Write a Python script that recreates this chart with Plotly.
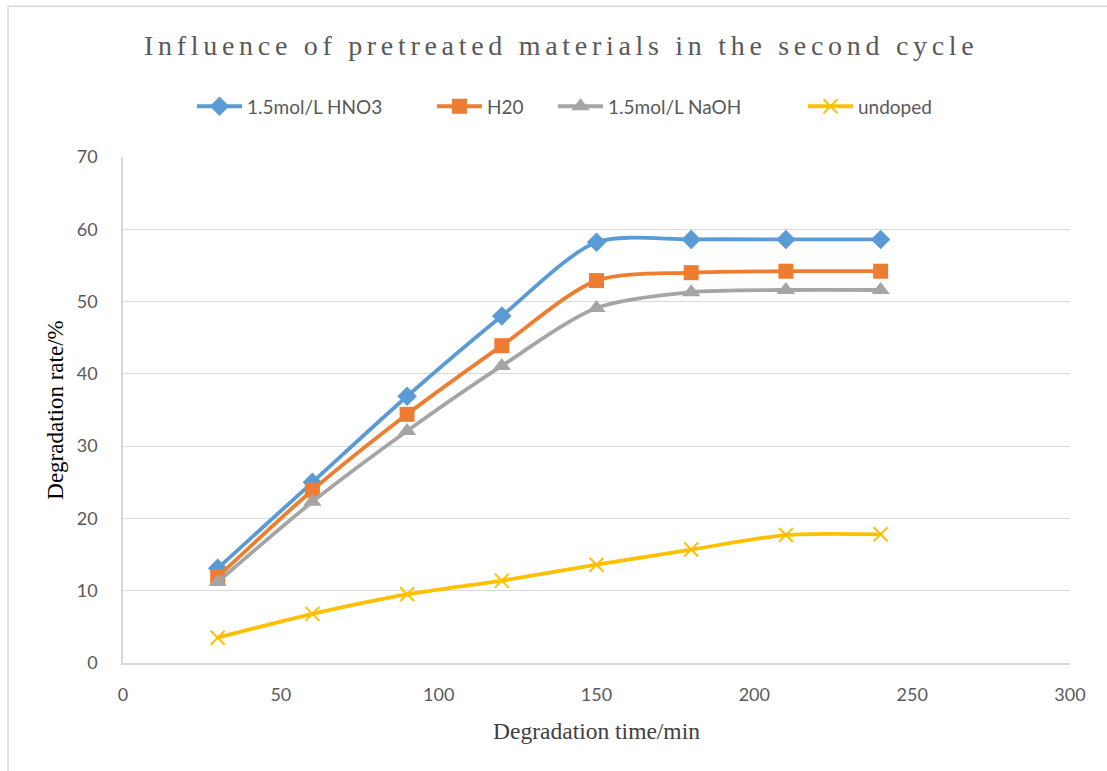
import plotly.graph_objects as go

time_min = [30, 60, 90, 120, 150, 180, 210, 240]
hno3 = [13.1, 25.0, 36.9, 48.0, 58.2, 58.6, 58.6, 58.6]
h2o = [11.9, 23.9, 34.4, 43.9, 52.9, 54.0, 54.2, 54.2]
naoh = [11.2, 22.3, 32.1, 41.1, 49.1, 51.3, 51.6, 51.6]
undoped = [3.5, 6.8, 9.5, 11.4, 13.6, 15.7, 17.7, 17.8]

names = ["1.5mol/L HNO3", "H20", "1.5mol/L NaOH", "undoped"]
colors = ["#5B9BD5", "#ED7D31", "#A5A5A5", "#FFC000"]
symbols = ["diamond", "square", "triangle-up", "x-thin"]
sizes = [15, 15, 16, 14]
legend_ids = ["legend", "legend2", "legend3", "legend4"]
legend_left_px = [192, 432, 553, 803]

PLOT_L, PLOT_W = 123, 947

fig = go.Figure()
for vals, name, col, sym, sz, lg in zip([hno3, h2o, naoh, undoped], names, colors, symbols, sizes, legend_ids):
    fig.add_trace(go.Scatter(
        x=time_min, y=vals, name=name, mode="lines+markers", legend=lg,
        line=dict(color=col, width=3.8, shape="spline", smoothing=0.8),
        marker=dict(symbol=sym, size=sz, color=col,
                    line=dict(color=col, width=2 if sym == "x-thin" else 0)),
    ))

title_text = '<span style="letter-spacing:4.7px">Influence of pretreated materials in the second cycle</span>'

legend_layout = {}
for lg, px in zip(legend_ids, legend_left_px):
    legend_layout[lg] = dict(orientation="h", x=(px - PLOT_L) / PLOT_W, xanchor="left",
                             y=1.1, yanchor="middle", itemwidth=45,
                             font=dict(family="Lato", size=19, color="#595959"),
                             bgcolor="rgba(0,0,0,0)")

fig.update_layout(
    width=1107, height=771,
    margin=dict(l=123, r=37, t=157, b=108),
    paper_bgcolor="white", plot_bgcolor="white",
    title=dict(text=title_text,
               x=0.507, xanchor="center", y=0.942, yanchor="middle",
               font=dict(family="Liberation Serif", size=28, color="#595959")),
    showlegend=True,
    **legend_layout,
)
fig.update_xaxes(range=[0, 300], dtick=50, showgrid=False, showline=True,
                 linecolor="#D9D9D9", linewidth=1.5, zeroline=False,
                 tickfont=dict(family="Lato", size=18, color="#595959"),
                 ticklabelstandoff=15,
                 title=dict(text="Degradation time/min", standoff=18,
                            font=dict(family="Liberation Serif", size=23.5, color="#404040")))
fig.update_yaxes(range=[0, 70], dtick=10, showgrid=True, gridcolor="#D9D9D9", gridwidth=1.2,
                 showline=True, linecolor="#D9D9D9", linewidth=1.5, zeroline=False,
                 tickfont=dict(family="Lato", size=18, color="#595959"),
                 ticklabelstandoff=20,
                 title=dict(text="Degradation rate/%", standoff=7,
                            font=dict(family="Liberation Serif", size=23, color="#000000")))
fig.add_shape(type="rect", xref="paper", yref="paper", x0=-0.1214, x1=1.2, y0=-0.4, y1=1.298,
              line=dict(color="#D9D9D9", width=1.5), fillcolor="rgba(0,0,0,0)", layer="below")

fig.write_html("out.html")
